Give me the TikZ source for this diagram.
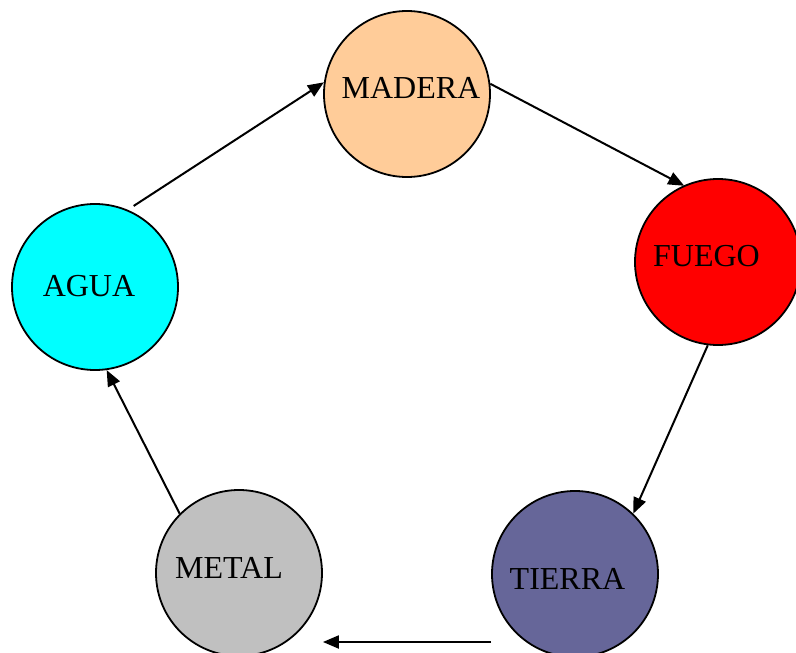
\documentclass[tikz,border=0pt]{standalone}
\usepackage{fontspec}
\setmainfont{Liberation Serif}
\usetikzlibrary{arrows.meta}
\definecolor{cmadera}{HTML}{FFCC99}
\definecolor{cfuego}{HTML}{FF0000}
\definecolor{cagua}{HTML}{00FFFF}
\definecolor{cmetal}{HTML}{C0C0C0}
\definecolor{ctierra}{HTML}{666699}
\tikzset{
  element/.style={circle, draw=black, line width=1.8pt, minimum size=166pt, inner sep=0pt},
  elabel/.style={inner sep=0pt, font=\fontsize{32}{38}\selectfont, text=black},
  flow/.style={draw=black, line width=2pt, -{Triangle[length=16pt,width=13pt]}}
}
\begin{document}
\begin{tikzpicture}[x=1pt,y=-1pt]
\useasboundingbox (0,0) rectangle (796,653);
\node[element, fill=cmadera] (madera) at (407,94) {};
\node[element, fill=cfuego] (fuego) at (718,262) {};
\node[element, fill=cagua] (agua) at (95,287) {};
\node[element, fill=cmetal] (metal) at (239,573) {};
\node[element, fill=ctierra] (tierra) at (575,574) {};
\node[elabel] (tmadera) at (411,87.5) {MADERA};
\node[elabel] (tfuego) at (706.5,256) {FUEGO};
\node[elabel] (tagua) at (89,286.5) {AGUA};
\node[elabel] (tmetal) at (229,567.5) {METAL};
\node[elabel] (ttierra) at (567.5,578.5) {TIERRA};
\draw[flow, shorten <=7pt] (agua.67) -- (madera.172);
\draw[flow] (madera.7.5) -- ([shift={(-1pt,-1pt)}]fuego.113);
\draw[flow] (fuego.263) -- (tierra.46);
\draw[flow] ([yshift=-68pt]tierra.west) -- ([yshift=-69pt]metal.east);
\draw[flow] (metal.135) -- (agua.278);
\end{tikzpicture}
\end{document}
